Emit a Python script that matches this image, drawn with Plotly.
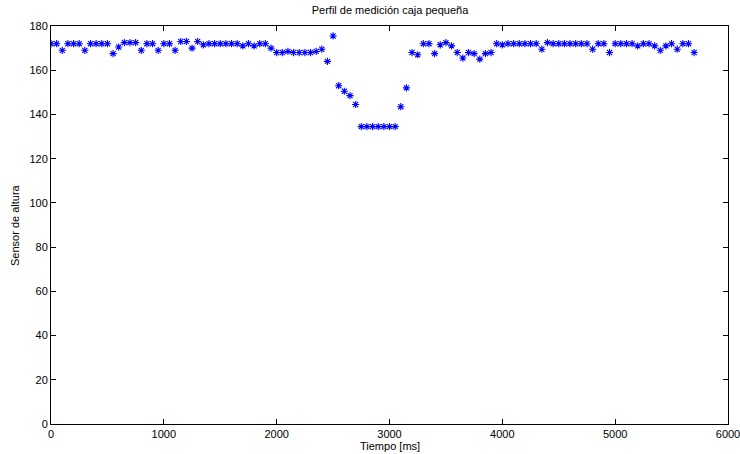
import plotly.graph_objects as go

# Sample times (ms): uniform 50 ms sampling
tiempo_ms = list(range(0, 5750, 50))

# Sensor readings
altura = [
    172, 172, 169, 172, 172, 172, 169, 172, 172, 172,
    172, 167.5, 170.5, 172.5, 172.5, 172.5, 169, 172, 172, 169,
    172, 172, 169, 173, 173, 170, 173, 171.5, 172, 172,
    172, 172, 172, 172, 171, 172, 171, 172, 172, 170,
    168, 168, 168.5, 168, 168, 168, 168, 168.5, 169.5, 164,
    175.5, 153, 150.5, 148.5, 144.5, 134.5, 134.5, 134.5, 134.5, 134.5,
    134.5, 134.5, 143.5, 152, 168, 167, 172, 172, 167.5, 171.5,
    172.5, 171, 168, 165.5, 168, 167.5, 165, 167.5, 168, 172,
    171.5, 172, 172, 172, 172, 172, 172, 169.5, 172.5, 172,
    172, 172, 172, 172, 172, 172, 169.5, 172, 172, 168,
    172, 172, 172, 172, 171, 172, 172, 171, 169, 171,
    172, 169.5, 172, 172, 168,
]

x_ticks = [0, 1000, 2000, 3000, 4000, 5000, 6000]
y_ticks = [0, 20, 40, 60, 80, 100, 120, 140, 160, 180]

titulo = "Perfil de medición caja pequeña"
etiqueta_x = "Tiempo [ms]"
etiqueta_y = "Sensor de altura"

font_family = "Liberation Sans, Arial, sans-serif"

fig = go.Figure()
fig.add_trace(go.Scatter(
    x=tiempo_ms, y=altura, mode="markers",
    marker=dict(symbol="asterisk-open", size=6, color="#0000ff",
                line=dict(color="#0000ff", width=1.1)),
    showlegend=False,
))

axis_common = dict(
    showline=True, linecolor="black", linewidth=1, mirror="ticks",
    ticks="inside", ticklen=5, tickcolor="black", tickwidth=1,
    showgrid=False, zeroline=False, automargin=False,
    ticklabeloverflow="allow",
    tickfont=dict(family=font_family, size=11, color="#000000"),
)

fig.update_layout(
    width=740, height=454,
    margin=dict(l=51, r=12, t=26, b=30),
    paper_bgcolor="white", plot_bgcolor="white",
    font=dict(family=font_family, size=11, color="#000000"),
    title=dict(text=titulo, x=0.527, xanchor="center", y=0.978, yanchor="middle",
               font=dict(family=font_family, size=11, color="#000000")),
    xaxis=dict(range=[0, 6000], tickvals=x_ticks, **axis_common),
    yaxis=dict(range=[0, 180], tickvals=y_ticks, **axis_common),
    annotations=[
        dict(text=etiqueta_x, xref="paper", yref="paper", x=0.5, y=0,
             xanchor="center", yanchor="middle", yshift=-21.5, showarrow=False,
             font=dict(family=font_family, size=11, color="#000000")),
        dict(text=etiqueta_y, xref="paper", yref="paper", x=0, y=0.5,
             xanchor="center", yanchor="middle", xshift=-36, textangle=-90,
             showarrow=False,
             font=dict(family=font_family, size=11, color="#000000")),
    ],
)

fig.write_html("out.html", config={"displayModeBar": False},
               post_script="document.body.style.margin='0';")
